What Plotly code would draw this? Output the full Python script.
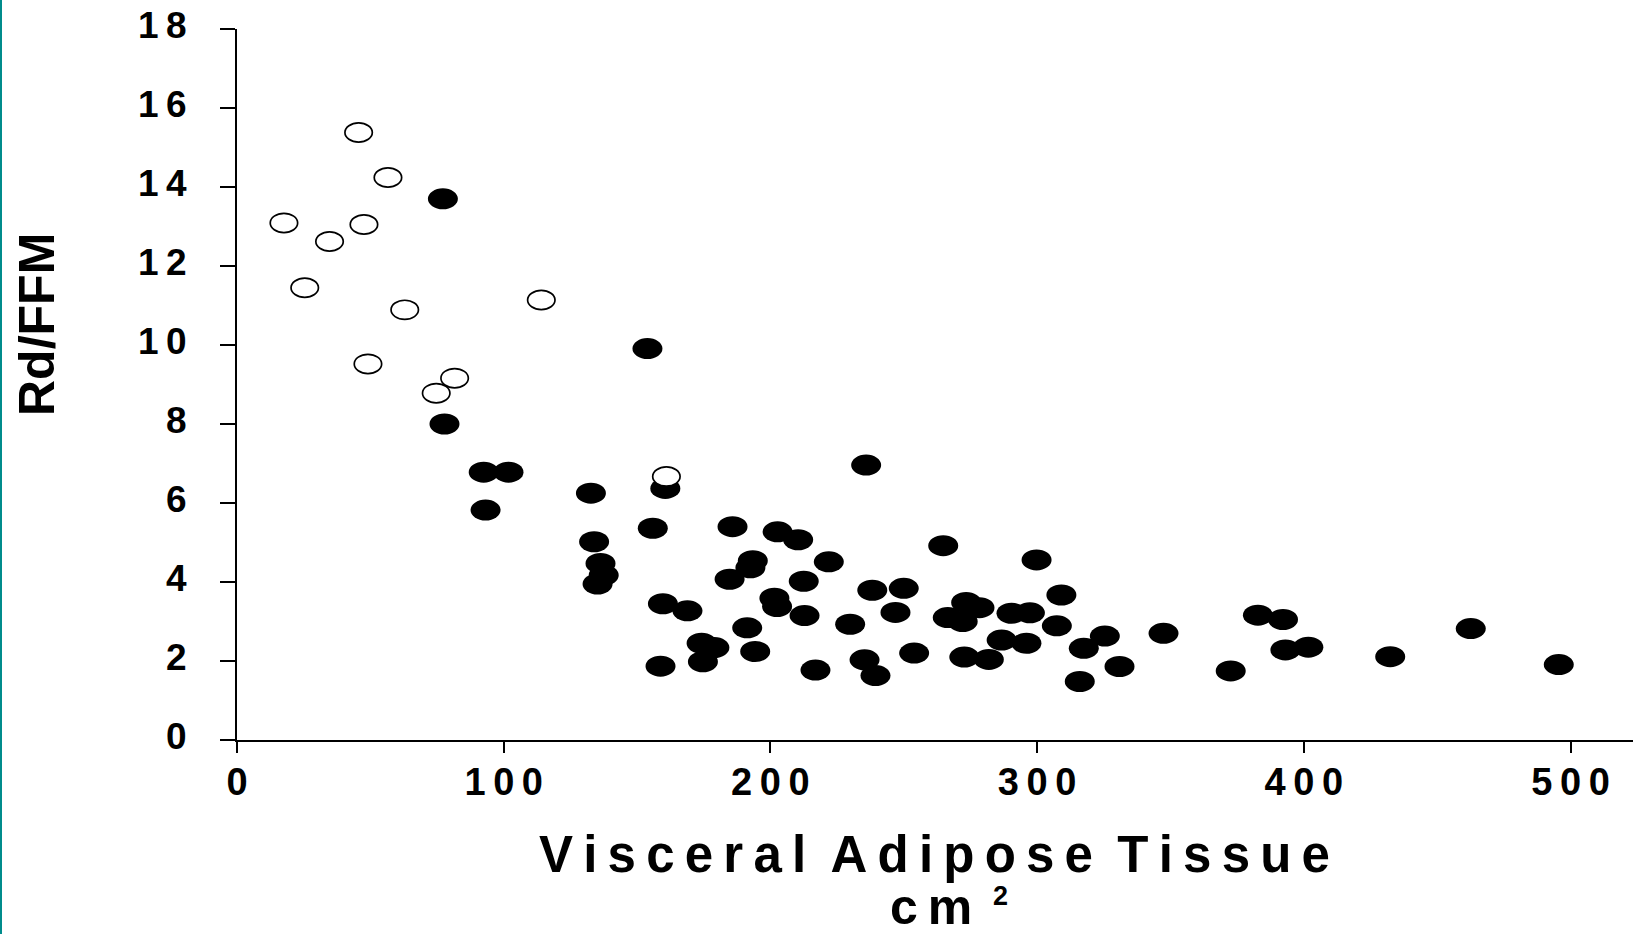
import plotly.graph_objects as go

# ---------------- data ----------------
# open circles (group 1)
open_x = [17.6, 25.4, 34.7, 45.6, 47.6, 49.1, 56.6, 62.9, 74.7, 81.6, 114.1, 161.0]
open_y = [13.09, 11.45, 12.62, 15.38, 13.05, 9.52, 14.24, 10.89, 8.78, 9.16, 11.14, 6.67]

# filled circles (group 2)
filled_x = [77.2, 77.8, 153.9, 92.5, 101.8, 93.2, 132.7, 160.6, 235.9, 155.9,
            185.8, 202.7, 210.4, 133.9, 136.3, 137.5, 135.2, 193.4, 192.5, 184.7,
            221.9, 212.5, 264.8, 299.8, 238.2, 250.0, 201.5, 202.5, 159.7, 168.9,
            212.8, 246.9, 273.4, 278.4, 266.5, 272.1, 290.4, 297.3, 309.1, 307.4,
            229.9, 191.3, 174.2, 179.0, 174.7, 194.3, 158.8, 216.9, 235.3, 239.4,
            253.9, 272.7, 281.9, 286.7, 296.0, 325.4, 317.5, 330.9, 316.0, 347.4,
            372.6, 382.8, 392.2, 393.1, 401.7, 432.4, 462.6, 495.6]
filled_y = [13.70, 8.00, 9.91, 6.78, 6.78, 5.82, 6.25, 6.37, 6.96, 5.36,
            5.40, 5.27, 5.07, 5.02, 4.47, 4.17, 3.95, 4.54, 4.36, 4.07,
            4.51, 4.02, 4.92, 4.56, 3.79, 3.84, 3.59, 3.38, 3.45, 3.27,
            3.15, 3.23, 3.48, 3.35, 3.10, 3.00, 3.21, 3.22, 3.67, 2.89,
            2.93, 2.84, 2.45, 2.34, 1.98, 2.24, 1.87, 1.77, 2.03, 1.63,
            2.20, 2.10, 2.04, 2.53, 2.45, 2.63, 2.32, 1.86, 1.48, 2.70,
            1.75, 3.16, 3.05, 2.28, 2.35, 2.11, 2.82, 1.91]

x_tick_vals = [0, 100, 200, 300, 400, 500]
y_tick_vals = [0, 2, 4, 6, 8, 10, 12, 14, 16, 18]

x_title = "Visceral Adipose Tissue"
x_unit = "cm"
x_unit_sup = "2"
y_title = "Rd/FFM"

THIN = "\u2009"
FONT = "Liberation Sans, Arial, sans-serif"


def spaced(s):
    words = s.split(" ")
    return (" " + THIN).join(THIN.join(list(w)) for w in words)


# ---------------- figure ----------------
fig = go.Figure()

fig.add_trace(go.Scatter(x=filled_x, y=filled_y, mode="markers",
                         marker=dict(size=22, color="black", opacity=0),
                         showlegend=False, hoverinfo="x+y"))
fig.add_trace(go.Scatter(x=open_x, y=open_y, mode="markers",
                         marker=dict(size=22, color="white", opacity=0),
                         showlegend=False, hoverinfo="x+y"))

shapes = []
for xv, yv in zip(filled_x, filled_y):
    shapes.append(dict(type="circle", xref="x", yref="y",
                       xsizemode="pixel", ysizemode="pixel",
                       xanchor=xv, yanchor=yv,
                       x0=-15, x1=15, y0=-10.5, y1=10.5,
                       fillcolor="black", line=dict(width=0)))
for xv, yv in zip(open_x, open_y):
    shapes.append(dict(type="circle", xref="x", yref="y",
                       xsizemode="pixel", ysizemode="pixel",
                       xanchor=xv, yanchor=yv,
                       x0=-13.7, x1=13.7, y0=-9.6, y1=9.6,
                       fillcolor="white", line=dict(width=1.7, color="black")))

L, T, B = 237, 29, 194
W, H = 1633, 934
pw, ph = W - L, H - T - B


def px_x(p):
    return (p - L) / pw


def px_y(p):
    return (H - B - p) / ph


# teal frame line at the left edge
shapes.append(dict(type="line", xref="paper", yref="paper",
                   x0=px_x(1), x1=px_x(1), y0=px_y(H + 5), y1=px_y(-5),
                   line=dict(color="#008C8C", width=2)))

fig.update_layout(
    width=W, height=H,
    margin=dict(l=L, r=0, t=T, b=B),
    paper_bgcolor="white", plot_bgcolor="white",
    shapes=shapes,
    showlegend=False,
    font=dict(family=FONT, color="black"),
)

fig.update_xaxes(
    range=[0, pw / 2.667], showgrid=False, zeroline=False,
    showline=True, linecolor="black", linewidth=2,
    ticks="outside", ticklen=11, tickwidth=2, tickcolor="black",
    tickvals=x_tick_vals, ticktext=[THIN.join(list(str(v))) for v in x_tick_vals],
    tickfont=dict(family=FONT, size=38, color="black", weight="bold"),
    ticklabelstandoff=-4,
)
fig.update_yaxes(
    range=[0, 18], showgrid=False, zeroline=False,
    showline=True, linecolor="black", linewidth=2,
    ticks="outside", ticklen=15, tickwidth=2, tickcolor="black",
    tickvals=y_tick_vals, ticktext=[THIN.join(list(str(v))) for v in y_tick_vals],
    tickfont=dict(family=FONT, size=37, color="black", weight="bold"),
    ticklabelstandoff=26, ticklabelshift=-4,
)

fig.add_annotation(text=y_title, xref="paper", yref="paper",
                   x=px_x(37), y=px_y(325), textangle=-90, showarrow=False,
                   xanchor="center", yanchor="middle",
                   font=dict(family=FONT, size=50, color="black", weight="bold"))
fig.add_annotation(text=spaced(x_title), xref="paper", yref="paper",
                   x=px_x(934), y=px_y(854), showarrow=False,
                   xanchor="center", yanchor="middle",
                   font=dict(family=FONT, size=51, color="black", weight="bold"))
fig.add_annotation(text=spaced(x_unit), xref="paper", yref="paper",
                   x=px_x(931), y=px_y(907), showarrow=False,
                   xanchor="center", yanchor="middle",
                   font=dict(family=FONT, size=50, color="black", weight="bold"))
fig.add_annotation(text=x_unit_sup, xref="paper", yref="paper",
                   x=px_x(1000), y=px_y(896), showarrow=False,
                   xanchor="center", yanchor="middle",
                   font=dict(family=FONT, size=27, color="black", weight="bold"))

fig.write_html("out.html")
